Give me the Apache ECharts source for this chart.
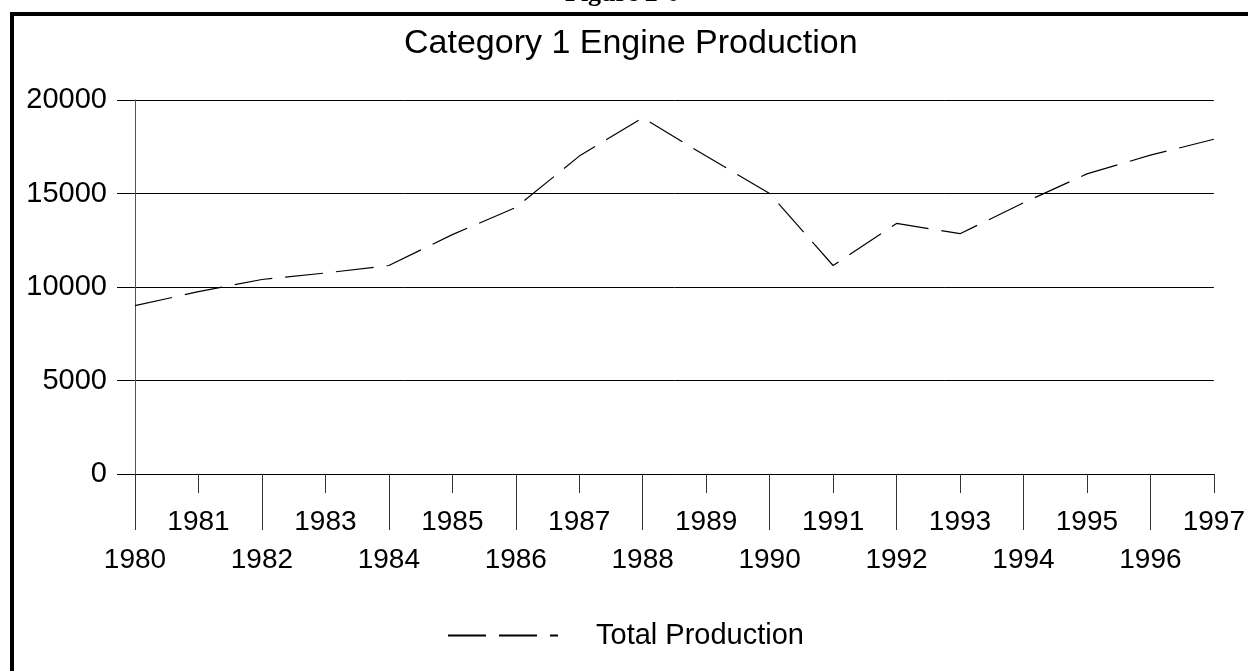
<!DOCTYPE html>
<html>
<head>
<meta charset="utf-8">
<script src="https://cdn.jsdelivr.net/npm/echarts@6/dist/echarts.min.js"></script>
<style>
  html, body { margin: 0; padding: 0; background: #fff; }
  #main { width: 1248px; height: 671px; }
</style>
</head>
<body>
<div id="main"></div>
<script>
var years = ['1980', '1981', '1982', '1983', '1984', '1985', '1986', '1987', '1988',
             '1989', '1990', '1991', '1992', '1993', '1994', '1995', '1996', '1997'];
var totalProduction = [9000, 9750, 10400, 10750, 11150, 12800, 14250, 17000, 19050,
                       17000, 15000, 11150, 13400, 12850, 14500, 16050, 17050, 17900];
var yTicks = [0, 5000, 10000, 15000, 20000];

var font = '"Liberation Sans", Arial, sans-serif';
var chart = echarts.init(document.getElementById('main'));

var option = {
    animation: false,
    backgroundColor: '#fff',
    title: {
        text: 'Category 1 Engine Production',
        left: 404,
        top: 27,
        padding: 0,
        textStyle: { fontFamily: font, fontSize: 34, fontWeight: 'normal', color: '#000' }
    },
    legend: {
        show: true,
        data: ['Total Production'],
        left: 447,
        top: 621,
        padding: 0,
        itemWidth: 110,
        itemHeight: 14,
        itemStyle: { opacity: 0 },
        textStyle: { fontFamily: font, fontSize: 29, color: '#000', padding: [0, 0, 0, 33] }
    },
    grid: { left: 135, right: 32, top: 100, bottom: 197 },
    xAxis: [
        {
            type: 'category',
            data: years,
            boundaryGap: false,
            axisLine: { lineStyle: { color: '#000', width: 1 } },
            axisTick: {
                length: 56,
                interval: function (i) { return i % 2 === 0; },
                lineStyle: { color: '#333' }
            },
            axisLabel: {
                interval: function (i) { return i % 2 === 0; },
                margin: 72,
                fontFamily: font, fontSize: 28, color: '#000'
            }
        },
        {
            type: 'category',
            data: years,
            boundaryGap: false,
            position: 'bottom',
            axisLine: { show: false },
            axisTick: {
                length: 19,
                interval: function (i) { return i % 2 === 1; },
                lineStyle: { color: '#333' }
            },
            axisLabel: {
                interval: function (i) { return i % 2 === 1; },
                margin: 34,
                fontFamily: font, fontSize: 28, color: '#000'
            }
        }
    ],
    yAxis: {
        type: 'value',
        min: yTicks[0],
        max: yTicks[yTicks.length - 1],
        interval: 5000,
        axisLine: { show: true, lineStyle: { color: '#555' } },
        axisTick: { show: true, length: 18, lineStyle: { color: '#000' } },
        axisLabel: {
            margin: 28, fontFamily: font, fontSize: 29, color: '#000',
            formatter: function (v) { return String(v); }
        },
        splitLine: { lineStyle: { color: '#000', width: 1 } }
    },
    graphic: [
        {
            type: 'rect',
            shape: { x: 12, y: 14, width: 1300, height: 720 },
            style: { fill: 'none', stroke: '#000', lineWidth: 4 },
            silent: true
        },
        {
            type: 'text',
            left: 565,
            top: -19,
            style: { text: 'Figure 2-6', font: 'bold 26px "Liberation Serif", serif', fill: '#000' }
        }
    ],
    series: [
        {
            name: 'Total Production',
            type: 'line',
            data: totalProduction,
            symbol: 'none',
            color: '#000',
            lineStyle: { color: '#000', width: 1.2, type: [38, 13] }
        }
    ]
};

chart.setOption(option);
</script>
</body>
</html>
